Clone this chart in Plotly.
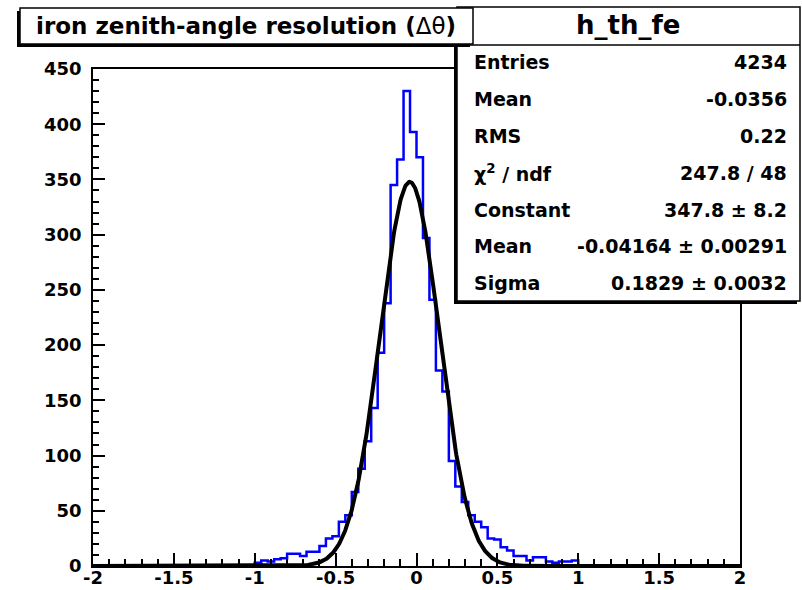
import numpy as np
import plotly.graph_objects as go

# ---------------- data ----------------
hist_name = "h_th_fe"
title_text = "iron zenith-angle resolution (Δθ)"
x_min, x_max, n_bins = -2.0, 2.0, 100

bin_centers = [-0.98, -0.94, -0.90, -0.86, -0.82, -0.78, -0.74, -0.70, -0.66, -0.62,
               -0.58, -0.54, -0.50, -0.46, -0.42, -0.38, -0.34, -0.30, -0.26, -0.22,
               -0.18, -0.14, -0.10, -0.06, -0.02, 0.02, 0.06, 0.10, 0.14, 0.18,
               0.22, 0.26, 0.30, 0.34, 0.38, 0.42, 0.46, 0.50, 0.54, 0.58,
               0.62, 0.66, 0.70, 0.74, 0.78, 0.82, 0.86, 0.90, 0.94, 0.98]
counts = [3, 5, 4, 6, 7, 11, 11, 9, 13, 13,
          18, 25, 27, 40, 46, 67, 88, 113, 143, 193,
          238, 345, 368, 430, 393, 370, 297, 241, 177, 158,
          95, 72, 58, 46, 40, 35, 25, 24, 17, 14,
          9, 9, 5, 8, 8, 4, 3, 4, 4, 5]

fit_constant = 347.8
fit_mean = -0.04164
fit_sigma = 0.1829

stat_labels = ["Entries", "Mean", "RMS", "χ<sup>2</sup> / ndf", "Constant", "Mean", "Sigma"]
stat_values = ["4234", "-0.0356", "0.22", "247.8 / 48", "347.8 ± 8.2",
               "-0.04164 ± 0.00291", "0.1829 ± 0.0032"]

x_tick_vals = [-2, -1.5, -1, -0.5, 0, 0.5, 1, 1.5, 2]
x_tick_text = ["-2", "-1.5", "-1", "-0.5", "0", "0.5", "1", "1.5", "2"]
y_tick_vals = [0, 50, 100, 150, 200, 250, 300, 350, 400, 450]

# ---------------- build histogram ----------------
width = (x_max - x_min) / n_bins
edges = x_min + width * np.arange(n_bins + 1)
full = np.zeros(n_bins)
for c, v in zip(bin_centers, counts):
    idx = int(round((c - x_min) / width - 0.5))
    full[idx] = v
hx = list(edges[:-1]) + [edges[-1]]
hy = list(full) + [full[-1]]

fx = np.linspace(x_min, x_max, 1201)
fy = fit_constant * np.exp(-0.5 * ((fx - fit_mean) / fit_sigma) ** 2)

# ---------------- layout geometry (pixels) ----------------
W, H = 802, 590
L, R, T, B = 93, 740, 69, 566
FONT = "DejaVu Sans"


def px(x):
    return (x - L) / (R - L)


def py(y):
    return (B - y) / (B - T)


fig = go.Figure()
fig.add_trace(go.Scatter(x=hx, y=hy, mode="lines", line=dict(color="#0000ff", width=2.5, shape="hv"),
                         hoverinfo="skip", showlegend=False))
fig.add_trace(go.Scatter(x=fx, y=fy, mode="lines", line=dict(color="black", width=4),
                         hoverinfo="skip", showlegend=False))

shapes = []


def box(x0, y0, x1, y1, shadow=3):
    shapes.append(dict(type="rect", xref="paper", yref="paper", layer="above",
                       x0=px(x0 - shadow), x1=px(x1 - shadow), y0=py(y0 + shadow), y1=py(y1 + shadow),
                       fillcolor="black", line=dict(width=0)))
    shapes.append(dict(type="rect", xref="paper", yref="paper", layer="above",
                       x0=px(x0), x1=px(x1), y0=py(y0), y1=py(y1),
                       fillcolor="white", line=dict(color="black", width=1.5)))


# stats box
box(457, 7, 800, 301)
shapes.append(dict(type="line", xref="paper", yref="paper", layer="above",
                   x0=px(457), x1=px(800), y0=py(45), y1=py(45),
                   line=dict(color="black", width=1.5)))
# title box
box(20, 8, 473, 44)

annotations = []
annotations.append(dict(xref="paper", yref="paper", x=px(246), y=py(26), text="<b>iron zenith-angle resolution (</b>Δθ<b>)</b>",
                        showarrow=False, xanchor="center", yanchor="middle",
                        font=dict(family=FONT, size=23, color="black")))
annotations.append(dict(xref="paper", yref="paper", x=px(628), y=py(25), text="<b>" + hist_name + "</b>",
                        showarrow=False, xanchor="center", yanchor="middle",
                        font=dict(family=FONT, size=26, color="black")))
row_y0, row_dy = 62, 36.9
for i, (lab, val) in enumerate(zip(stat_labels, stat_values)):
    yy = row_y0 + i * row_dy
    annotations.append(dict(xref="paper", yref="paper", x=px(472), y=py(yy), text="<b>" + lab + "</b>",
                            showarrow=False, xanchor="left", yanchor="middle",
                            font=dict(family=FONT, size=19, color="black")))
    annotations.append(dict(xref="paper", yref="paper", x=px(789), y=py(yy), text="<b>" + val + "</b>",
                            showarrow=False, xanchor="right", yanchor="middle",
                            font=dict(family=FONT, size=19, color="black")))

fig.update_layout(
    width=W, height=H,
    margin=dict(l=L, r=W - R, t=T, b=H - B, pad=0),
    paper_bgcolor="white", plot_bgcolor="white",
    shapes=shapes, annotations=annotations,
    showlegend=False,
)
fig.update_xaxes(range=[x_min, x_max], tickvals=x_tick_vals, ticktext=x_tick_text,
                 ticks="inside", ticklen=13, tickwidth=1.5, tickcolor="black",
                 minor=dict(dtick=0.1, ticks="inside", ticklen=7, tickwidth=1.5, tickcolor="black"),
                 showline=True, linecolor="black", linewidth=1.5, mirror=True,
                 showgrid=False, zeroline=False, automargin=False, ticklabelstandoff=-5,
                 tickfont=dict(family=FONT, size=18, color="black", weight="bold"))
fig.update_yaxes(range=[0, 450], tickvals=y_tick_vals,
                 ticks="inside", ticklen=12, tickwidth=1.5, tickcolor="black",
                 minor=dict(dtick=10, ticks="inside", ticklen=6, tickwidth=1.5, tickcolor="black"),
                 showline=True, linecolor="black", linewidth=1.5, mirror=True,
                 showgrid=False, zeroline=False, automargin=False, ticklabelstandoff=6,
                 tickfont=dict(family=FONT, size=18, color="black", weight="bold"))

fig.write_html("out.html")
